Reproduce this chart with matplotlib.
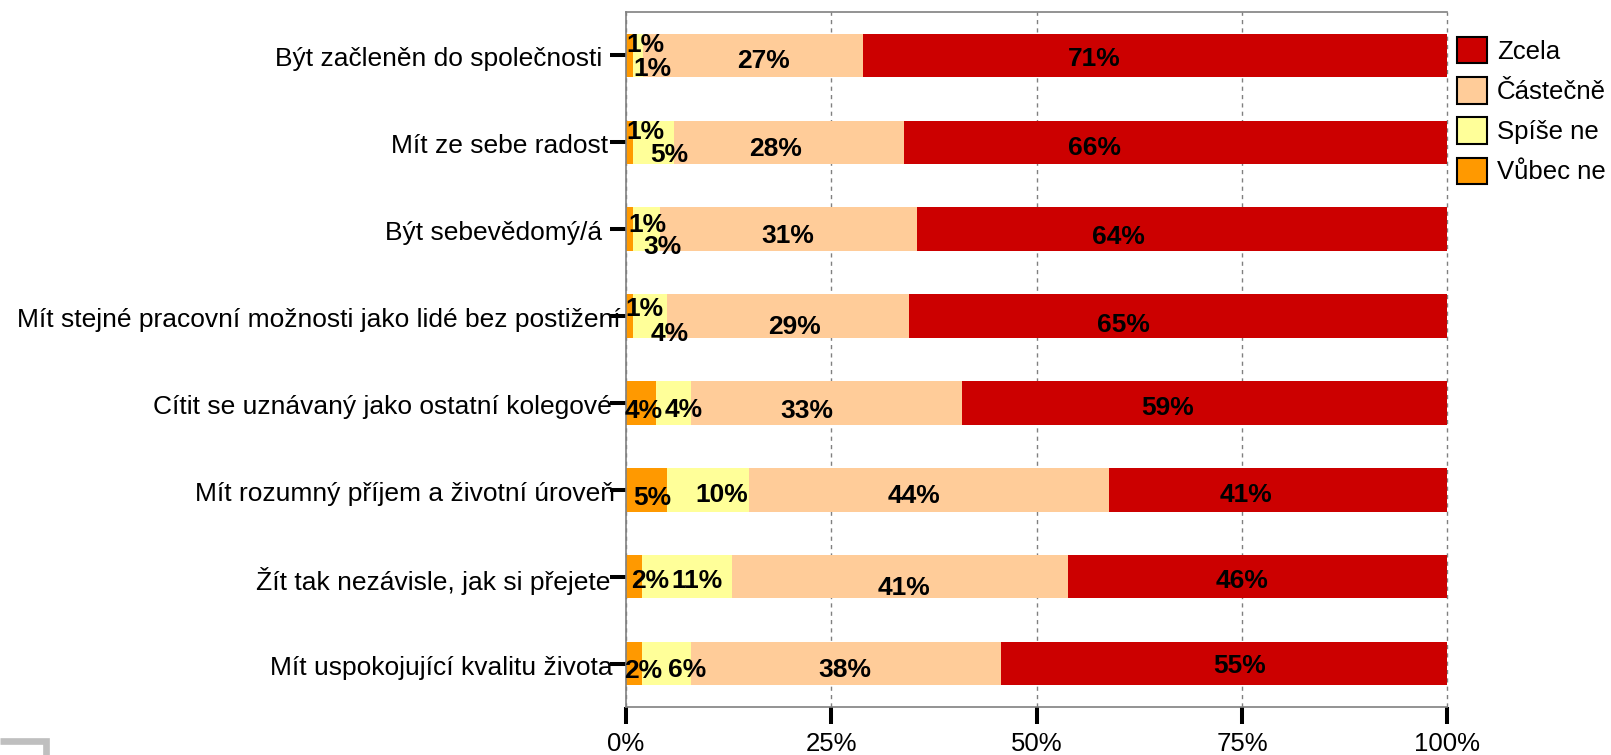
import matplotlib
matplotlib.use("Agg")
import matplotlib.pyplot as plt
from matplotlib.patches import Patch
from matplotlib.lines import Line2D

plt.rcParams['font.family'] = ['Liberation Sans', 'DejaVu Sans']

# data (top row first)
categories = ["Být začleněn do společnosti",
              "Mít ze sebe radost",
              "Být sebevědomý/á",
              "Mít stejné pracovní možnosti jako lidé bez postižení",
              "Cítit se uznávaný jako ostatní kolegové",
              "Mít rozumný příjem a životní úroveň",
              "Žít tak nezávisle, jak si přejete",
              "Mít uspokojující kvalitu života"]
series_names = ["Zcela", "Částečně", "Spíše ne", "Vůbec ne"]

# segment widths (%)
vubec_ne = [0.8, 0.8, 0.9, 0.9, 3.7, 5.0, 2.0, 1.9]
spise_ne = [1.3, 5.05, 3.2, 4.1, 4.2, 10.0, 10.9, 6.0]
castecne = [26.7, 28.05, 31.3, 29.5, 33.0, 43.8, 40.9, 37.8]
zcela = [71.2, 66.1, 64.6, 65.5, 59.1, 41.2, 46.2, 54.3]

# printed labels (%)
vubec_lab = [1, 1, 1, 1, 4, 5, 2, 2]
spise_lab = [1, 5, 3, 4, 4, 10, 11, 6]
cast_lab = [27, 28, 31, 29, 33, 44, 41, 38]
zcela_lab = [71, 66, 64, 65, 59, 41, 46, 55]

xticks = [0, 25, 50, 75, 100]
xticklabels = ["0%", "25%", "50%", "75%", "100%"]

# label layout (x in %, dy in px downwards from bar centre)
vubec_lx = [2.35, 2.35, 2.6, 2.3, 2.2, 3.2, 2.9, 2.1]
vubec_dy = [-12.5, -12.8, -6.5, -10, 6, 6, 2, 5]
spise_lx = [3.2, 5.3, 4.4, 5.3, 7.0, 11.7, 8.6, 7.4]
spise_dy = [11, 10.5, 15, 15.5, 4.5, 2.5, 2, 4]
cast_lx = [16.7, 18.2, 19.7, 20.5, 22.0, 35.0, 33.8, 26.7]
cast_dy = [3.5, 4, 4.5, 8, 6, 4, 9, 4]
zcela_lx = [57.0, 57.0, 60.0, 60.6, 65.9, 75.5, 75.0, 74.7]
zcela_dy = [1, 3, 5, 6, 3, 2.5, 2, 0]
cat_right = [-24, -18, -24, -5, -14, -11, -16, -13]   # px from axis

colors = {"Zcela": "#CC0000", "Částečně": "#FFCC99",
          "Spíše ne": "#FFFF99", "Vůbec ne": "#FF9900"}

W, H = 1611, 755
fig = plt.figure(figsize=(W / 100, H / 100), dpi=100)
ax = fig.add_axes([626 / W, 1 - 707 / H, (1447.5 - 626) / W, (707 - 12) / H])

ypos = list(range(len(categories)))
left = [0.0] * len(categories)
for name, vals in [("Vůbec ne", vubec_ne), ("Spíše ne", spise_ne),
                   ("Částečně", castecne), ("Zcela", zcela)]:
    ax.barh(ypos, vals, left=left, height=0.5, color=colors[name], zorder=2)
    left = [l + v for l, v in zip(left, vals)]

fs_val = 19
half_cap = 0.358 * fs_val * 100 / 72
for labs, lx, dy in [(vubec_lab, vubec_lx, vubec_dy), (spise_lab, spise_lx, spise_dy),
                     (cast_lab, cast_lx, cast_dy), (zcela_lab, zcela_lx, zcela_dy)]:
    for i in ypos:
        ax.annotate(f"{labs[i]}%", xy=(lx[i], i), xytext=(0, -(dy[i] + half_cap)),
                    textcoords="offset pixels", ha="center", va="baseline",
                    fontsize=fs_val, fontweight="bold", color="black", zorder=5)

# category labels
for i in ypos:
    ax.annotate(categories[i], xy=(0, i), xytext=(cat_right[i], -4),
                textcoords="offset pixels", ha="right", va="center",
                fontsize=19, color="black", annotation_clip=False)

ax.set_xlim(0, 100)
ax.set_ylim(7.5, -0.5)
ax.set_xticks(xticks)
ax.set_xticklabels(xticklabels, fontsize=18.5)
ax.set_yticks(ypos)
ax.set_yticklabels([])
ax.tick_params(axis="x", direction="out", length=12.2, width=2.9, color="black", pad=6)
ax.tick_params(axis="y", direction="out", length=11.5, width=2.9, color="black")

ax.set_axisbelow(True)
ax.xaxis.grid(True, linestyle=(0, (3, 3)), color="#808080", linewidth=1)
for gl in ax.get_xgridlines():
    gl.set_clip_on(False)
for s in ["left", "top", "bottom"]:
    ax.spines[s].set_color("#808080")
    ax.spines[s].set_linewidth(1.2)
ax.spines["right"].set_visible(False)

handles = [Patch(facecolor=colors[n], edgecolor="black", linewidth=1.5, label=n)
           for n in series_names]
fig.legend(handles=handles, loc="upper left", bbox_to_anchor=(1457 / W, 1 - 37 / H),
           frameon=False, fontsize=18.5, handlelength=1.17, handleheight=1.2,
           handletextpad=0.39, labelspacing=0.52, borderpad=0, borderaxespad=0)

# grey corner mark bottom-left
fig.add_artist(Line2D([0, 46 / W, 46 / W], [1 - 740.5 / H, 1 - 740.5 / H, 0],
                      transform=fig.transFigure, color="#BFBFBF", linewidth=4.8,
                      solid_joinstyle="miter", solid_capstyle="butt"))

fig.savefig("out.png", dpi=100)
